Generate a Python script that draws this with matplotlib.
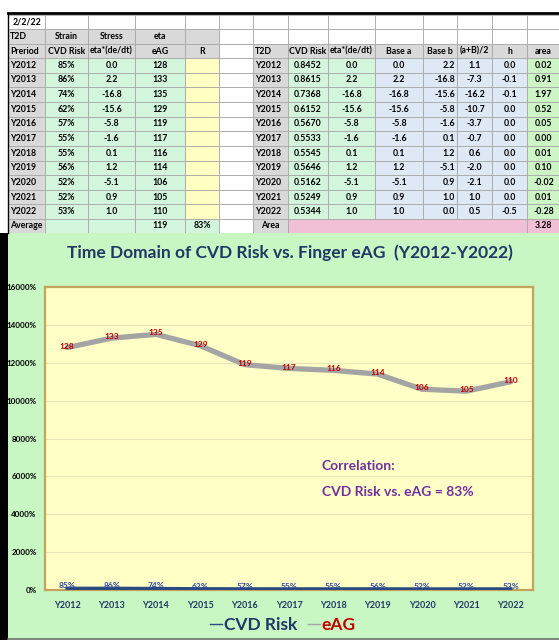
import numpy as np
import matplotlib
matplotlib.use("Agg")
import matplotlib.pyplot as plt
from matplotlib.patches import Rectangle
from matplotlib.lines import Line2D

plt.rcParams['font.family'] = ['Lato', 'DejaVu Sans']

# data
years = ["Y2012", "Y2013", "Y2014", "Y2015", "Y2016", "Y2017",
         "Y2018", "Y2019", "Y2020", "Y2021", "Y2022"]
cvd_risk = [0.8452, 0.8615, 0.7368, 0.6152, 0.5670, 0.5533,
            0.5545, 0.5646, 0.5162, 0.5249, 0.5344]
stress = [0.0, 2.2, -16.8, -15.6, -5.8, -1.6, 0.1, 1.2, -5.1, 0.9, 1.0]
eag = [128, 133, 135, 129, 119, 117, 116, 114, 106, 105, 110]
base_a = [0.0, 2.2, -16.8, -15.6, -5.8, -1.6, 0.1, 1.2, -5.1, 0.9, 1.0]
base_b = [2.2, -16.8, -15.6, -5.8, -1.6, 0.1, 1.2, -5.1, 0.9, 1.0, 0.0]
half_ab = [1.1, -7.3, -16.2, -10.7, -3.7, -0.7, 0.6, -2.0, -2.1, 1.0, 0.5]
h_vals = [0.0, -0.1, -0.1, 0.0, 0.0, 0.0, 0.0, 0.0, 0.0, 0.0, -0.5]
area = [0.02, 0.91, 1.97, 0.52, 0.05, 0.00, 0.01, 0.10, -0.02, 0.01, -0.28]
sheet_date = "2/2/22"
avg_eag = "119"
corr_r = "83%"
area_total = "3.28"

GREY = "#d9d9d9"
GREEN = "#d3f5dc"
YELLOW = "#ffffc4"
BLUE = "#dfe8f5"
AGREEN = "#cdf5c6"
PINK = "#f2c0d6"
LINE = "#a8a8a8"

fig = plt.figure(figsize=(5.59, 6.4), dpi=100)
bg = fig.add_axes([0, 0, 1, 1])
bg.set_xlim(0, 559)
bg.set_ylim(640, 0)
bg.axis("off")


def cell(x0, x1, y0, y1, color, text="", ha="center", weight="bold", size=6.3):
    bg.add_patch(Rectangle((x0, y0), x1 - x0, y1 - y0, facecolor=color,
                           edgecolor=LINE, lw=0.6, snap=True))
    if text:
        if ha == "left":
            tx = x0 + 2
        elif ha == "right":
            tx = x1 - 2
        else:
            tx = (x0 + x1) / 2
        bg.text(tx, (y0 + y1) / 2 + 0.5, text, ha=ha, va="center",
                fontsize=size, fontweight=weight, color="black")


# row grid
row_h = 14.6
top0 = 13.5
rows = [round(top0 + i * row_h) + 0.5 for i in range(17)]   # row edges

# top line
bg.plot([8, 559], [12.5, 12.5], color="black", lw=2)
bg.plot([7.5, 7.5], [12.5, 233], color="black", lw=1)

# left table
lx = [8, 45, 88, 135, 185, 219]
cell(lx[0], lx[1], rows[0], rows[1], "white", sheet_date)
for j in range(1, 5):
    cell(lx[j], lx[j + 1], rows[0], rows[1], "white")
head1 = ["T2D", "Strain", "Stress", "eta", ""]
head2 = ["Preriod", "CVD Risk", "eta*(de/dt)", "eAG", "R"]
for j in range(5):
    cell(lx[j], lx[j + 1], rows[1], rows[2], GREY, head1[j], "left" if j == 0 else "center")
    cell(lx[j], lx[j + 1], rows[2], rows[3], GREY, head2[j], "left" if j == 0 else "center")
for i, yr in enumerate(years):
    y0, y1 = rows[3 + i], rows[4 + i]
    cell(lx[0], lx[1], y0, y1, GREY, yr, "left")
    cell(lx[1], lx[2], y0, y1, GREEN, f"{cvd_risk[i] * 100:.0f}%")
    cell(lx[2], lx[3], y0, y1, GREEN, f"{stress[i]:.1f}")
    cell(lx[3], lx[4], y0, y1, GREEN, f"{eag[i]}")
    cell(lx[4], lx[5], y0, y1, YELLOW)
y0, y1 = rows[14], rows[15]
cell(lx[0], lx[1], y0, y1, GREY, "Average", "left")
cell(lx[1], lx[2], y0, y1, GREEN)
cell(lx[2], lx[3], y0, y1, GREEN)
cell(lx[3], lx[4], y0, y1, GREEN, avg_eag)
cell(lx[4], lx[5], y0, y1, GREEN, corr_r)

# gap column
for r in range(0, 15):
    cell(219, 253, rows[r], rows[r + 1], "white")

# right table
rx = [253, 288, 328, 375, 423, 457, 492, 527, 560]
for j in range(8):
    cell(rx[j], rx[j + 1], rows[0], rows[1], "white")
    cell(rx[j], rx[j + 1], rows[1], rows[2], "white")
rhead = ["T2D", "CVD Risk", "eta*(de/dt)", "Base a", "Base b", "(a+B)/2", "h", "area"]
for j in range(8):
    cell(rx[j], rx[j + 1], rows[2], rows[3], GREY, rhead[j], "left" if j == 0 else "center")
for i, yr in enumerate(years):
    y0, y1 = rows[3 + i], rows[4 + i]
    cell(rx[0], rx[1], y0, y1, GREY, yr, "left")
    cell(rx[1], rx[2], y0, y1, GREEN, f"{cvd_risk[i]:.4f}")
    cell(rx[2], rx[3], y0, y1, GREEN, f"{stress[i]:.1f}")
    cell(rx[3], rx[4], y0, y1, BLUE, f"{base_a[i]:.1f}")
    cell(rx[4], rx[5], y0, y1, BLUE, f"{base_b[i]:.1f}", "right")
    cell(rx[5], rx[6], y0, y1, BLUE, f"{half_ab[i]:.1f}")
    cell(rx[6], rx[7], y0, y1, BLUE, f"{h_vals[i]:.1f}")
    cell(rx[7], rx[8], y0, y1, AGREEN, f"{area[i]:.2f}")
y0, y1 = rows[14], rows[15]
cell(rx[0], rx[1], y0, y1, GREY, "Area")
bg.add_patch(Rectangle((rx[1], y0), rx[7] - rx[1], y1 - y0, facecolor=PINK,
                       edgecolor=LINE, lw=0.6, snap=True))
cell(rx[7], rx[8], y0, y1, PINK, area_total)

# chart background
chart_top = rows[15]
bg.add_patch(Rectangle((8, chart_top), 551, 640 - chart_top, facecolor="#c8f7c4",
                       edgecolor="none"))
bg.add_patch(Rectangle((0, chart_top), 7.5, 640 - chart_top, facecolor="black",
                       edgecolor="none"))
bg.plot([8, 559], [638.5, 638.5], color="#707070", lw=1.2)

fig.text(290 / 559, 1 - 253 / 640, "Time Domain of CVD Risk vs. Finger eAG  (Y2012-Y2022)",
         ha="center", va="center", fontsize=12.5, fontweight="bold", color="#1f3864")

# chart
ax = fig.add_axes([45 / 559, 1 - 590 / 640, (533 - 45) / 559, (590 - 287) / 640])
ax.set_facecolor("#ffffc6")
x = np.arange(len(years))
ax.set_xlim(-0.5, len(years) - 0.5)
ax.set_ylim(0, 160)
ax.set_yticks(np.arange(0, 161, 20))
ax.set_yticklabels([f"{v * 100:.0f}%" for v in np.arange(0, 161, 20)])
ax.grid(axis="y", color="#ebe4b4", lw=0.8)
ax.set_axisbelow(True)
ax.set_xticks(x)
ax.set_xticklabels(years)
ax.tick_params(axis="both", length=0)
ax.tick_params(axis="x", pad=8, labelsize=6.5, labelcolor="#1f3864")
ax.tick_params(axis="y", pad=6, labelsize=5.8, labelcolor="black")
for lab in ax.get_xticklabels() + ax.get_yticklabels():
    lab.set_fontweight("bold")
for s in ax.spines.values():
    s.set_color("#c4a35a")
    s.set_linewidth(1.6)

ax.plot(x, eag, color="#a4a4a4", lw=3.8, solid_capstyle="round", zorder=3)
ax.plot(x, cvd_risk, color="#2b4a80", lw=2.5, zorder=3)
for i in range(len(years)):
    ax.annotate(f"{eag[i]}", (x[i], eag[i]), xytext=(0, 1), textcoords="offset points",
                ha="center", va="center", fontsize=6, fontweight="bold",
                color="#c00000", zorder=4)
    ax.annotate(f"{cvd_risk[i] * 100:.0f}%", (x[i], cvd_risk[i]), xytext=(0, 2),
                textcoords="offset points", ha="center", va="center", fontsize=6,
                fontweight="bold", color="#2b4aa0", zorder=4)

fig.text(322 / 559, 1 - 466 / 640, "Correlation:", ha="left", va="center",
         fontsize=10, fontweight="bold", color="#7030a0")
fig.text(322 / 559, 1 - 492 / 640, "CVD Risk vs. eAG = 83%", ha="left", va="center",
         fontsize=10, fontweight="bold", color="#7030a0")

handles = [Line2D([], [], color="#2b4a80", lw=1.0), Line2D([], [], color="#a4a4a4", lw=1.0)]
leg = fig.legend(handles, ["CVD Risk", "eAG"], loc="center", ncol=2,
                 bbox_to_anchor=(283 / 559, 1 - 625 / 640), frameon=False,
                 handlelength=0.7, handletextpad=0.1, columnspacing=0.6,
                 prop={"size": 12.5, "weight": "bold"})
leg.get_texts()[0].set_color("#1f3864")
leg.get_texts()[1].set_color("#c00000")

fig.savefig("out.png", dpi=100)
